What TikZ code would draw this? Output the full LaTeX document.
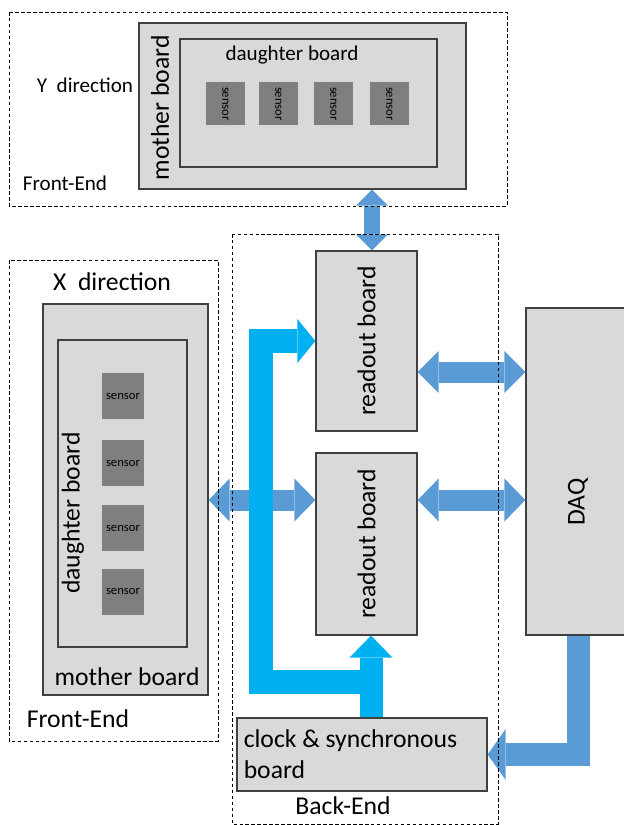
\documentclass[tikz,border=0pt]{standalone}
\usepackage{fontspec}
\setmainfont{Carlito}
\usepackage{tikz}
\usetikzlibrary{arrows.meta,calc,positioning}
\newlength\px
\setlength\px{0.03cm}
\definecolor{boardgray}{HTML}{D9D9D9}
\definecolor{boardline}{HTML}{404040}
\definecolor{sensorgray}{HTML}{7F7F7F}
\definecolor{linkblue}{HTML}{5B9BD5}
\definecolor{clockcyan}{HTML}{00B0F0}
\newcommand\bigtxt{\fontsize{21.9}{26.5}\selectfont}
\newcommand\midtxt{\fontsize{18}{21}\selectfont}
\newcommand\tinytxt{\fontsize{10.8}{12}\selectfont}
\tikzset{
    myboard/.style={draw=boardline,fill=boardgray,line width=1.1pt,inner sep=0pt},
    mysensor/.style={fill=sensorgray,inner sep=0pt},
    myframe/.style={draw=black,line width=0.7pt,dash pattern=on 3pt off 2.1pt},
    mylink/.style n args={4}{draw=#1,line width=#2,
      arrows={Triangle[length=#3,width=#4,line width=0pt]-Triangle[length=#3,width=#4,line width=0pt]}},
    myflow/.style n args={4}{draw=#1,line width=#2,
      arrows={-Triangle[length=#3,width=#4,line width=0pt]}},
    every node/.style={inner sep=1pt}
}
\begin{document}
\begin{tikzpicture}[x=0.03cm,y=-0.03cm]
  \useasboundingbox (0,0) rectangle (623,825);

  % Y 方向前端
  \node[myboard,minimum width=327\px,minimum height=166\px] (ymb) at (302.5,106) {};
  \node[myboard,minimum width=257\px,minimum height=128\px] (ydb) at (308.5,103) {};
  \node[font=\bigtxt,rotate=90] (ymbtext) at (160,108) {mother board};
  \node[font=\midtxt] (ydbtext) at (292,55) {daughter board};
  \foreach \i/\x in {1/225.5,2/278.5,3/333.5,4/389.5}{
    \node[mysensor,minimum width=39\px,minimum height=43\px] (ys\i) at (\x,104) {};
    \node[font=\tinytxt,rotate=-90] (ys\i text) at (ys\i) {sensor};
  }
  \node[font=\midtxt] (ydir) at (85,85) {Y\ \ direction};
  \node[font=\midtxt] (yfe) at (65,183) {Front-End};

  % X 方向前端
  \node[myboard,minimum width=165\px,minimum height=391\px] (xmb) at (125.5,499.5) {};
  \node[myboard,minimum width=129\px,minimum height=307\px] (xdb) at (122.5,493.5) {};
  \node[font=\bigtxt,rotate=90] (xdbtext) at (73,513) {daughter board};
  \node[font=\bigtxt] (xmbtext) at (127,677) {mother board};
  \foreach \i/\y in {1/396,2/463,3/528,4/591.5}{
    \node[mysensor,minimum width=42\px,minimum height=46\px] (xs\i) at (123,\y) {};
    \node[font=\tinytxt] (xs\i text) at (xs\i) {sensor};
  }
  \node[font=\bigtxt] (xdir) at (112,282) {X\ \ direction};
  \node[font=\bigtxt] (xfe) at (78,719) {Front-End};

  % 后端
  \node[myboard,minimum width=101\px,minimum height=180\px] (ro1) at (366.5,341) {};
  \node[myboard,minimum width=101\px,minimum height=182\px] (ro2) at (366.5,544) {};
  \node[myboard,minimum width=104\px,minimum height=327\px] (daq) at (578,471.5) {};
  \node[myboard,minimum width=250\px,minimum height=73\px] (clock) at (362,754.5) {};
  \node[font=\bigtxt,rotate=90] (ro1text) at (ro1) {readout board};
  \node[font=\bigtxt,rotate=90] (ro2text) at (ro2) {readout board};
  \node[font=\bigtxt,rotate=90] (daqtext) at (578,502) {DAQ};
  \node[font=\bigtxt,align=left,anchor=west,xshift=6\px] (clocktext) at (clock.west)
    {clock \& synchronous\\board};
  \node[font=\bigtxt] (betext) at (343,806) {Back-End};

  % 连线
  \coordinate (yl) at ($(ro1.north)+(5.5,0)$);
  \coordinate (r1d) at ($(ro1.east)+(0,31)$);
  \coordinate (r2d) at ($(ro2.east)+(0,-44)$);
  \draw[mylink={linkblue}{16\px}{0.48cm}{0.96cm}] (yl |- ymb.south) -- (yl);
  \draw[mylink={linkblue}{21\px}{0.63cm}{1.26cm}] (r1d) -- (r1d -| daq.west);
  \draw[mylink={linkblue}{21\px}{0.63cm}{1.29cm}] (r2d) -- (r2d -| daq.west);
  \draw[mylink={linkblue}{21\px}{0.63cm}{1.29cm}] (r2d -| xmb.east) -- (r2d -| ro2.west);
  \draw[myflow={linkblue}{23\px}{0.54cm}{1.53cm}] (daq.south) |- (clock.east);

  % 时钟
  \coordinate (cu) at ($(clock.north)+(9,0)$);
  \coordinate (cb) at ($(cu)+(0,-35.5)$);
  \coordinate (bus) at (260.5,500);
  \draw[myflow={clockcyan}{23\px}{0.66cm}{1.29cm}] (cu) -- (cu |- ro2.south);
  \draw[myflow={clockcyan}{24\px}{0.54cm}{1.32cm}] (cb) -| (bus |- ro1.west) -- (ro1.west);

  % 虚线框
  \draw[myframe] (9,12) rectangle (507,206);
  \draw[myframe] (9,260) rectangle (218,741);
  \draw[myframe] (232,234) rectangle (498,824);
\end{tikzpicture}
\end{document}
